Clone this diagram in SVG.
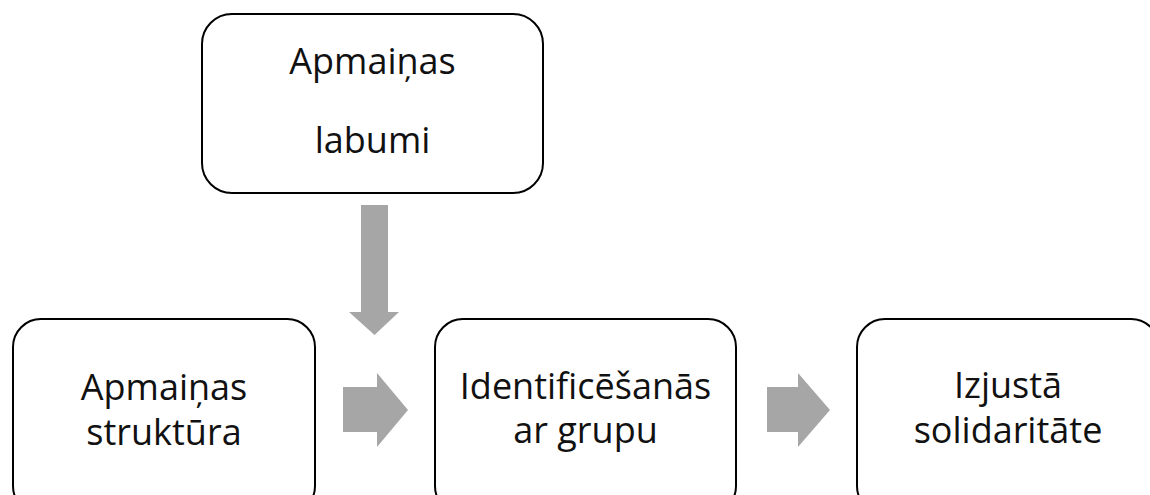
<svg xmlns="http://www.w3.org/2000/svg" width="1150" height="495" viewBox="0 0 1150 495">
<style>
.box{fill:#fff;stroke:#000;stroke-width:2}
.t{font-family:"Open Sans","Noto Sans","DejaVu Sans",sans-serif;font-size:36px;fill:#111;text-anchor:middle}
.arr{fill:#a6a6a6}
</style>
<rect width="1150" height="495" fill="#fff"/>
<g id="connectors">
<path class="arr" d="M361,205 H388 V312 H399 L374.5,335 L349,312 H361 Z"/>
<path class="arr" d="M343,387 H377 V373 L408,410 L377,447 V432 H343 Z"/>
<path class="arr" d="M767,387 H798 V373 L830,410 L798,447 V432 H767 Z"/>
</g>
<g id="node-top">
<rect class="box" x="202" y="14" width="341" height="179" rx="30"/>
<text class="t" x="372.5" y="74">Apmaiņas</text>
<text class="t" x="372.5" y="153">labumi</text>
</g>
<g id="node-left">
<rect class="box" x="13" y="319" width="302" height="195" rx="28"/>
<text class="t" x="164" y="400">Apmaiņas</text>
<text class="t" x="164" y="445">struktūra</text>
</g>
<g id="node-middle">
<rect class="box" x="435" y="319" width="301" height="195" rx="28"/>
<text class="t" x="585.5" y="399">Identificēšanās</text>
<text class="t" x="585.5" y="443">ar grupu</text>
</g>
<g id="node-right">
<rect class="box" x="857" y="319" width="302" height="195" rx="28"/>
<text class="t" x="1008" y="398">Izjustā</text>
<text class="t" x="1008" y="443">solidaritāte</text>
</g>
</svg>
